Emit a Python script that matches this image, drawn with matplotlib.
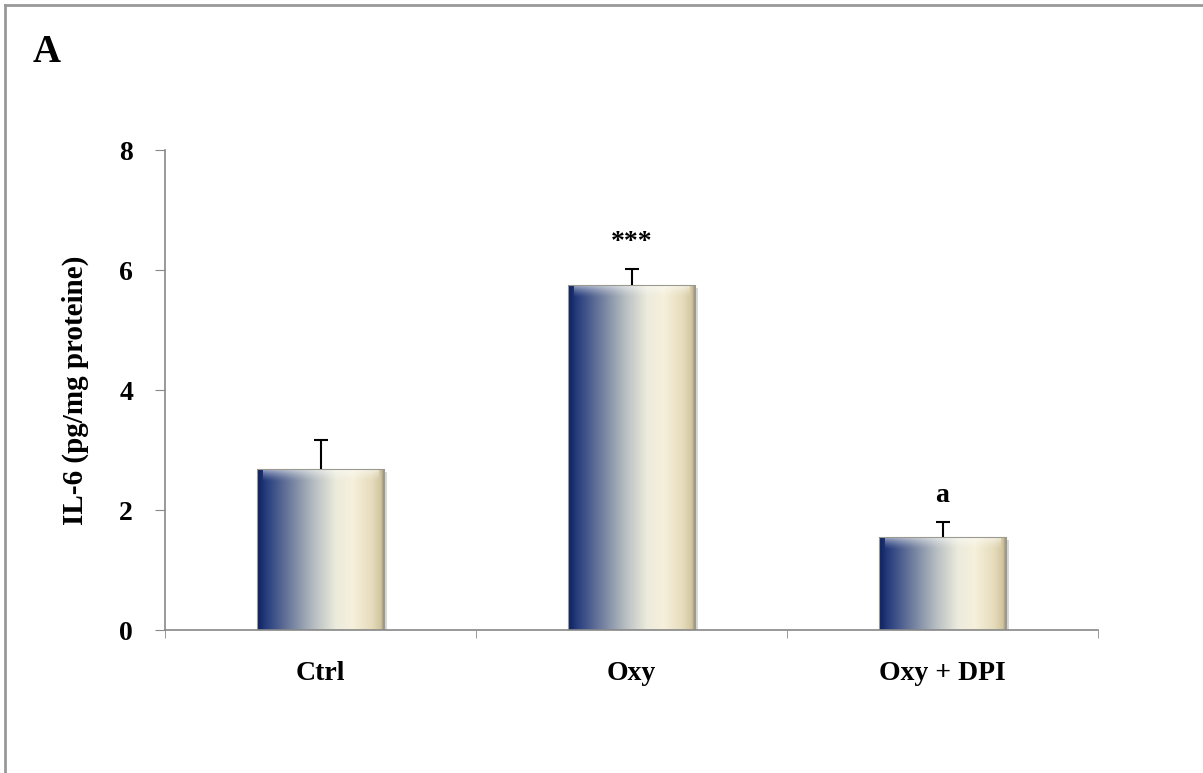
import matplotlib.pyplot as plt
import numpy as np
from matplotlib.colors import LinearSegmentedColormap
from matplotlib.patches import Rectangle
from matplotlib.lines import Line2D

groups = ['Ctrl', 'Oxy', 'Oxy + DPI']
il6_mean = [2.68, 5.75, 1.55]
il6_err = [0.49, 0.27, 0.25]
marks = ['', '***', 'a']

plt.rcParams['font.family'] = ['Liberation Serif', 'DejaVu Serif']
plt.rcParams['font.weight'] = 'bold'

fig = plt.figure(figsize=(12.03, 7.73), dpi=100)
ax = fig.add_axes([165 / 1203, 1 - 630 / 773, 933 / 1203, 480 / 773])

# horizontal shading across each bar: navy -> pale -> cream -> tan
shade = LinearSegmentedColormap.from_list('bar_shade', [
    (0.00, '#0d2160'),
    (0.08, '#2a4080'),
    (0.25, '#6b7a9c'),
    (0.45, '#b8bfc2'),
    (0.62, '#ecebdd'),
    (0.75, '#f6f0dc'),
    (0.90, '#e6dcbc'),
    (0.97, '#d2c6a0'),
    (1.00, '#8a8270'),
])
grad = np.linspace(0, 1, 256).reshape(1, -1)

# white highlight fading downwards for the top bevel
glow = np.ones((32, 1, 4))
glow[:, 0, 3] = np.linspace(0.75, 0.0, 32) ** 1.5

width = 0.41
x = np.arange(len(groups))
bars = ax.bar(x, il6_mean, width, color='none', edgecolor='none', zorder=2)
for b in bars:
    x0, h = b.get_x(), b.get_height()
    # soft shadow
    ax.add_patch(Rectangle((x0 + 0.008, -0.05), width, h, color='#d8d8d8',
                           zorder=1.5, lw=0))
    im = ax.imshow(grad, cmap=shade, aspect='auto', zorder=2,
                   extent=(x0, x0 + width, 0, h), interpolation='bicubic')
    im.set_clip_path(b)
    top = ax.imshow(glow, aspect='auto', zorder=2.1,
                    extent=(x0 + 0.02, x0 + width - 0.02, h - 0.22, h),
                    interpolation='bilinear')
    top.set_clip_path(b)
    ax.add_patch(Rectangle((x0, 0), width, h, fill=False, ec='#9a9a90',
                           lw=0.8, zorder=2.3))

eb = ax.errorbar(x, il6_mean, yerr=[np.zeros(3), il6_err], fmt='none',
                 ecolor='black', elinewidth=1.5, capsize=5, capthick=1.5,
                 zorder=3)
eb[1][0].set_visible(False)

for xi, m, e, t in zip(x, il6_mean, il6_err, marks):
    if t:
        ax.annotate(t, (xi, m + e), xytext=(0, 10), textcoords='offset points',
                    ha='center', va='bottom', fontsize=20, fontweight='bold')

ax.set_xlim(-0.5, 2.5)
ax.set_ylim(0, 8)
ax.set_yticks([0, 2, 4, 6, 8])
ax.set_xticks(x)
ax.set_xticklabels(groups)
ax.set_xticks([-0.5, 0.5, 1.5, 2.5], minor=True)
ax.tick_params(axis='x', which='major', length=0, pad=22, labelsize=20)
ax.tick_params(axis='x', which='minor', length=6, color='#888888', direction='out')
ax.tick_params(axis='y', length=7, color='#888888', pad=16, labelsize=20)
for lbl in ax.get_xticklabels() + ax.get_yticklabels():
    lbl.set_fontweight('bold')

for s in ['top', 'right']:
    ax.spines[s].set_visible(False)
for s in ['left', 'bottom']:
    ax.spines[s].set_color('#888888')
    ax.spines[s].set_linewidth(1.2)

ax.set_ylabel('IL-6 (pg/mg proteine)', fontsize=21, fontweight='bold', labelpad=22)

fig.text(33 / 1203, 1 - 52 / 773, 'A', fontsize=28, fontweight='bold',
         ha='left', va='center')

# outer frame (top and left edges only visible)
fig.add_artist(Line2D([5 / 1203, 1], [1 - 5 / 773, 1 - 5 / 773],
                      color='#999999', lw=2, transform=fig.transFigure))
fig.add_artist(Line2D([5 / 1203, 5 / 1203], [0, 1 - 5 / 773],
                      color='#999999', lw=2, transform=fig.transFigure))

fig.savefig('out.png', dpi=100)
